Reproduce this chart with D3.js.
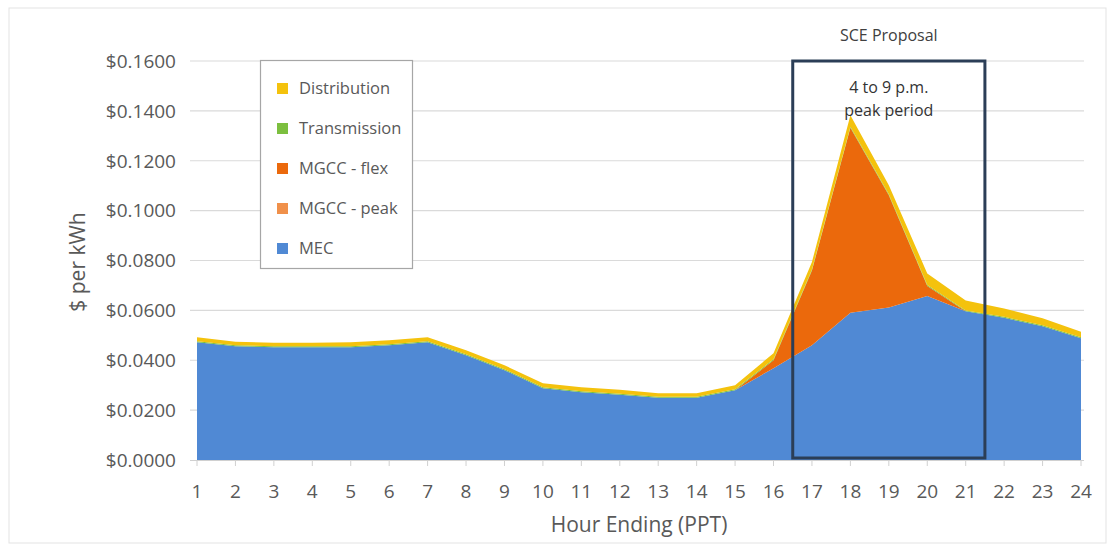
<!DOCTYPE html>
<html><head><meta charset="utf-8">
<script src="https://cdn.jsdelivr.net/npm/d3@7"></script>
<style>body{margin:0;background:#fff;font-family:"Open Sans",Lato,sans-serif;} svg{display:block}</style>
</head><body><svg id="c" width="1117" height="548"></svg>
<script>
const hours = [1,2,3,4,5,6,7,8,9,10,11,12,13,14,15,16,17,18,19,20,21,22,23,24];
const seriesNames = ["MEC","MGCC - peak","MGCC - flex","Transmission","Distribution"];
const mec = [0.0472,0.0456,0.0452,0.0452,0.0452,0.0460,0.0472,0.0420,0.0360,0.0288,0.0272,0.0262,0.0250,0.0250,0.0280,0.0368,0.0460,0.0590,0.0612,0.0658,0.0596,0.0570,0.0536,0.0488];
const mgccPeak = [0,0,0,0,0,0,0,0,0,0,0,0,0,0,0,0,0,0,0,0,0,0,0,0];
const mgccFlex = [0,0,0,0,0,0,0,0,0,0,0,0,0,0,0,0.0032,0.0300,0.0742,0.0450,0.0040,0,0,0,0];
const transmission = [0.0004,0.0004,0.0004,0.0004,0.0004,0.0004,0.0004,0.0004,0.0004,0.0004,0.0004,0.0004,0.0004,0.0004,0.0004,0.0004,0.0004,0.0004,0.0004,0.0004,0.0004,0.0004,0.0004,0.0004];
const distribution = [0.0016,0.0014,0.0014,0.0014,0.0016,0.0016,0.0016,0.0016,0.0016,0.0016,0.0016,0.0016,0.0014,0.0014,0.0016,0.0024,0.0030,0.0046,0.0036,0.0046,0.0040,0.0034,0.0028,0.0022];
const yTicks = [0,0.02,0.04,0.06,0.08,0.10,0.12,0.14,0.16];
const legendOrder = ["Distribution","Transmission","MGCC - flex","MGCC - peak","MEC"];
const peakStart = 16.5, peakEnd = 21.5;

const colors = {"MEC":"#5089d4","MGCC - peak":"#f0904a","MGCC - flex":"#eb690c","Transmission":"#7cbf3f","Distribution":"#f4c20d"};
const valuesBy = {"MEC":mec,"MGCC - peak":mgccPeak,"MGCC - flex":mgccFlex,"Transmission":transmission,"Distribution":distribution};
const rows = hours.map((h,i)=>{const r={hour:h}; seriesNames.forEach(s=>r[s]=valuesBy[s][i]); return r;});

const svg = d3.select("#c");
const x = d3.scaleLinear().domain([1,24]).range([197,1081]);
const y = d3.scaleLinear().domain([0,0.16]).range([460,61]);

// outer border
svg.append("rect").attr("x",9).attr("y",8).attr("width",1097).attr("height",535)
  .attr("fill","none").attr("stroke","#e3e3e3").attr("stroke-width",1);

// gridlines
svg.append("g").selectAll("line").data(yTicks.slice(1)).join("line")
  .attr("x1",190).attr("x2",1084).attr("y1",d=>y(d)).attr("y2",d=>y(d))
  .attr("stroke","#dadada").attr("stroke-width",1.2);

// y labels
svg.append("g").selectAll("text").data(yTicks).join("text")
  .attr("x",176).attr("y",d=>y(d)).attr("dy","0.36em").attr("text-anchor","end")
  .attr("fill","#595959").style("font-size","19px").text(d=>"$"+d.toFixed(4));

// stacked areas
const stack = d3.stack().keys(seriesNames);
const layers = stack(rows);
const area = d3.area().x(d=>x(d.data.hour)).y0(d=>y(d[0])).y1(d=>y(d[1]));
svg.append("g").selectAll("path").data(layers).join("path")
  .attr("d",area).attr("fill",d=>colors[d.key]);

// x axis line and ticks
svg.append("line").attr("x1",190).attr("x2",1084).attr("y1",460.5).attr("y2",460.5).attr("stroke","#d0d0d0");
svg.append("g").selectAll("line").data(hours).join("line")
  .attr("x1",d=>x(d)).attr("x2",d=>x(d)).attr("y1",461).attr("y2",466).attr("stroke","#d0d0d0");
svg.append("g").selectAll("text").data(hours).join("text")
  .attr("x",d=>x(d)).attr("y",498).attr("text-anchor","middle")
  .attr("fill","#595959").style("font-size","19px").text(d=>d);

// axis titles
svg.append("text").attr("transform","translate(78,262) rotate(-90)").attr("text-anchor","middle")
  .attr("dy","0.35em").attr("fill","#595959").style("font-size","21px").text("$ per kWh");
svg.append("text").attr("x",639).attr("y",532).attr("text-anchor","middle")
  .attr("fill","#595959").style("font-size","21px").text("Hour Ending (PPT)");

// peak box
svg.append("rect").attr("x",x(peakStart)).attr("y",y(0.16))
  .attr("width",x(peakEnd)-x(peakStart)).attr("height",y(0)-y(0.16)-2)
  .attr("fill","none").attr("stroke","#2b3e57").attr("stroke-width",3);
const cx = (x(peakStart)+x(peakEnd))/2;
svg.append("text").attr("x",cx).attr("y",41).attr("text-anchor","middle")
  .attr("fill","#404040").style("font-size","16px").text("SCE Proposal");
svg.append("text").attr("x",cx).attr("y",93).attr("text-anchor","middle")
  .attr("fill","#333").style("font-size","16px").text("4 to 9 p.m.");
svg.append("text").attr("x",cx).attr("y",116).attr("text-anchor","middle")
  .attr("fill","#333").style("font-size","16px").text("peak period");

// legend
const lg = svg.append("g");
lg.append("rect").attr("x",260.5).attr("y",60.5).attr("width",152).attr("height",208)
  .attr("fill","#fff").attr("stroke","#a6a6a6").attr("stroke-width",1.2);
const items = lg.selectAll("g").data(legendOrder).join("g")
  .attr("transform",(d,i)=>`translate(0,${88+i*40})`);
items.append("rect").attr("x",277).attr("y",-5).attr("width",11).attr("height",11).attr("fill",d=>colors[d]);
items.append("text").attr("x",299).attr("y",0).attr("dy","0.35em")
  .attr("fill","#595959").style("font-size","16.5px").text(d=>d);
</script></body></html>
